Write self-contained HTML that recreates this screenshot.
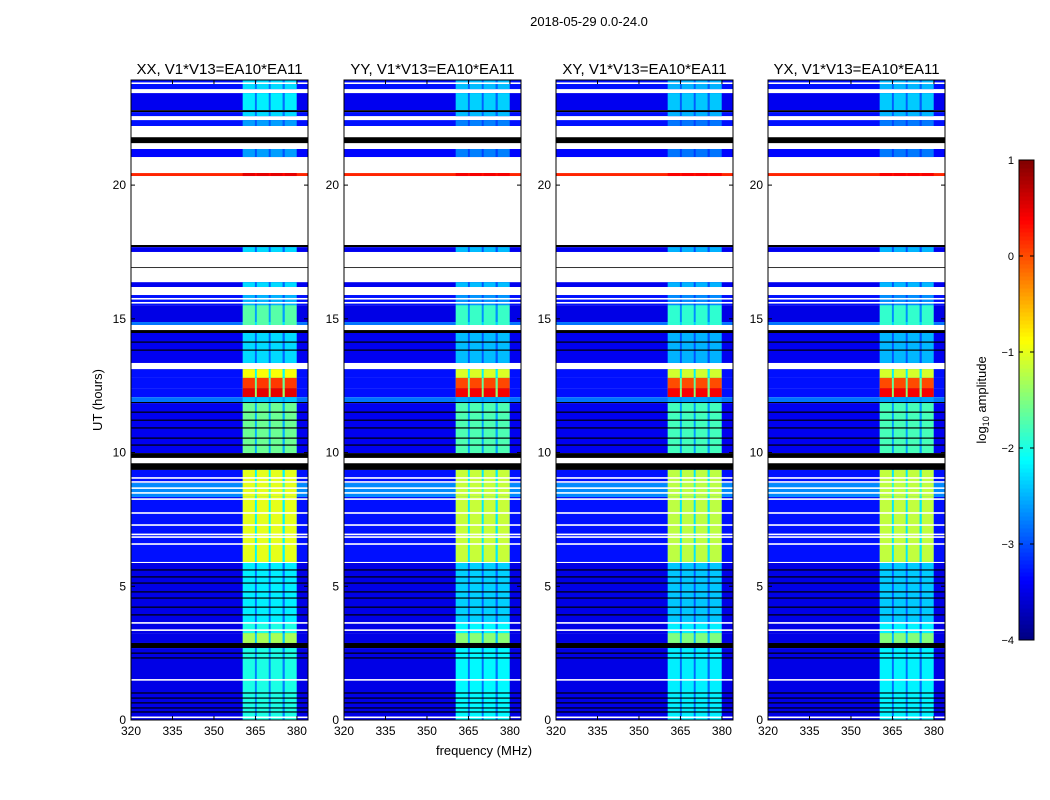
<!DOCTYPE html>
<html><head><meta charset="utf-8"><style>
html,body{margin:0;padding:0;background:#fff;}
svg{display:block;font-family:"Liberation Sans",sans-serif;}
</style></head><body>
<svg id="chart" width="1050" height="800" viewBox="0 0 1050 800" xmlns="http://www.w3.org/2000/svg">
<text x="589" y="26" font-size="13" text-anchor="middle">2018-05-29 0.0-24.0</text>
<text transform="translate(102,400) rotate(-90)" font-size="13" text-anchor="middle">UT (hours)</text>
<text x="484" y="755" font-size="13" text-anchor="middle">frequency (MHz)</text>
<g id="panels"></g>
<g id="cbar"></g>
</svg>
<script>
const panelTitles = ["XX, V1*V13=EA10*EA11","YY, V1*V13=EA10*EA11","XY, V1*V13=EA10*EA11","YX, V1*V13=EA10*EA11"];
const panelBandOffset = [0, -0.15, -0.2, -0.18];
const xTicks = [320,335,350,365,380];
const yTicks = [0,5,10,15,20];
const cbTicks = [1,0,-1,-2,-3,-4];
const bandStart = [360.4, 365.5, 370.5, 375.6];
const bandEnd = [364.8, 369.8, 374.8, 379.9];
const segTop = [23.93,23.59,23.44,22.80,22.73,22.58,22.43,22.21,21.79,21.57,21.35,21.05,20.45,20.34,17.76,17.68,17.50,16.93,16.90,16.37,16.19,15.89,15.51,14.88,14.77,14.58,14.47,13.35,13.12,12.79,12.41,12.07,11.89,11.85,9.98,9.80,9.60,9.35,8.86,8.34,5.91,5.87,3.63,3.25,2.88,2.69];
const segKind = ['d','w','d','k','d','w','d','w','k','w','d','w','d','w','k','d','w','k','w','d','w','d','d','d','w','k','d','w','d','d','d','d','k','d','k','w','k','d','d','d','w','d','d','d','k','d'];
const segBg = [-3.3,0,-3.45,0,-3.3,0,-3.3,0,0,0,-3.35,0,0.2,0,0,-3.45,0,0,0,-3.45,0,-3.3,-3.5,-2.8,0,0,-3.45,0,-3.3,-3.3,-3.3,-2.8,0,-3.45,0,0,0,-3.3,-2.7,-3.3,0,-3.5,-3.5,-3.5,0,-3.5];
const segBand = [-2.3,0,-2.2,0,-2.3,0,-2.6,0,0,0,-2.6,0,0.5,0,0,-2.3,0,0,0,-2.3,0,-2.5,-1.7,-1.7,0,0,-2.3,0,-0.9,0.1,0.5,-2.4,0,-1.6,0,0,0,-1.0,-1.0,-1.0,0,-2.2,-2.0,-1.3,0,-2.0];
const whiteLines = [23.81,9.05,8.9,8.67,8.49,8.26,7.74,7.29,6.94,6.84,6.58,3.63,3.36,1.5,0.1,15.75,15.6];
const blackLines = [14.13,13.83,11.51,11.21,10.92,10.54,10.28,5.61,5.35,5.12,4.79,4.56,4.22,3.93,2.50,2.32,1.01,0.82,0.64,0.45,0.30];

const NS="http://www.w3.org/2000/svg";
const panelLeft=[131,344,556,768], pw=177, pTop=80, pBot=720;
const fMin=320,fMax=384,tMin=0,tMax=23.93;
function mk(t,a,p){const e=document.createElementNS(NS,t);for(const k in a)e.setAttribute(k,a[k]);p.appendChild(e);return e;}
function jet(v){let t=(v+4)/5;t=Math.max(0,Math.min(1,t));
 const r=Math.max(0,Math.min(1,1.5-Math.abs(4*t-3))),g=Math.max(0,Math.min(1,1.5-Math.abs(4*t-2))),b=Math.max(0,Math.min(1,1.5-Math.abs(4*t-1)));
 return `rgb(${Math.round(r*255)},${Math.round(g*255)},${Math.round(b*255)})`;}
const panelsG=document.getElementById('panels');
panelTitles.forEach((title,p)=>{
 const L=panelLeft[p];
 const X=f=>L+(f-fMin)/(fMax-fMin)*pw;
 const Y=t=>pBot-(t-tMin)/(tMax-tMin)*(pBot-pTop);
 const g=mk('g',{},panelsG);
 
 
 for(let i=0;i<segTop.length;i++){
  const t0=segTop[i],t1=(i+1<segTop.length)?segTop[i+1]:0;
  const y0=Y(t0),h=Y(t1)-y0;
  const k=segKind[i];
  if(k==='w')continue;
  const r=mk('rect',{x:L,y:y0,width:pw,height:h,fill:k==='k'?'#000':jet(segBg[i])},g);
  
  
  if(k==='d'){
   const bl=segBand[i]+(segBand[i]<0?panelBandOffset[p]:panelBandOffset[p]*0.5);
   const gap=mk('rect',{x:X(bandStart[0]),y:y0,width:X(bandEnd[3])-X(bandStart[0]),height:h,fill:jet((bl+segBg[i])/2)},g);
   
   
   for(let b=0;b<bandStart.length;b++){
    const br=mk('rect',{x:X(bandStart[b]),y:y0,width:X(bandEnd[b])-X(bandStart[b]),height:h,fill:jet(bl)},g);
    
    
   }
  }
 }
 whiteLines.forEach(t=>{const l=mk('rect',{x:L,y:Y(t)-0.8,width:pw,height:1.6,fill:'#fff'},g);
  
  });
 blackLines.forEach(t=>{const l=mk('rect',{x:L,y:Y(t)-0.6,width:pw,height:1.2,fill:'#000'},g);
  
  });
 const fr=mk('rect',{x:L,y:pTop,width:pw,height:pBot-pTop,fill:'none',stroke:'#000','stroke-width':1},g);
 
 
 const tt=mk('text',{x:L+pw/2,y:74,'font-size':15,'text-anchor':'middle'},g);tt.textContent=title;
 
 
 xTicks.forEach(f=>{const x=X(f);
  mk('line',{x1:x,x2:x,y1:pBot,y2:pBot-4,stroke:'#000'},g);mk('line',{x1:x,x2:x,y1:pTop,y2:pTop+4,stroke:'#000'},g);
  const t=mk('text',{x:x,y:pBot+15,'font-size':12,'text-anchor':'middle'},g);t.textContent=f;
  
  });
 yTicks.forEach(v=>{const y=Y(v);
  mk('line',{x1:L,x2:L+4,y1:y,y2:y,stroke:'#000'},g);mk('line',{x1:L+pw,x2:L+pw-4,y1:y,y2:y,stroke:'#000'},g);
  const t=mk('text',{x:L-5,y:y+4,'font-size':12,'text-anchor':'end'},g);t.textContent=v;
  
  });
});
// colorbar
const cb=document.getElementById('cbar');
const cbx=1019,cbw=15,cbt=160,cbb=640;
const CY=v=>cbb-(v+4)/5*(cbb-cbt);
for(let i=0;i<120;i++){const v=-4+5*i/120;
 mk('rect',{x:cbx,y:CY(v+5/120),width:cbw,height:(cbb-cbt)/120+0.5,fill:jet(v+2.5/120)},cb);}
const cf=mk('rect',{x:cbx,y:cbt,width:cbw,height:cbb-cbt,fill:'none',stroke:'#000'},cb);


cbTicks.forEach(v=>{const y=CY(v);
 mk('line',{x1:cbx,x2:cbx+4,y1:y,y2:y,stroke:'#000'},cb);mk('line',{x1:cbx+cbw,x2:cbx+cbw-4,y1:y,y2:y,stroke:'#000'},cb);
 const t=mk('text',{x:cbx-5,y:y+4,'font-size':11,'text-anchor':'end'},cb);t.textContent=(v<0?'\u2212'+(-v):v);
 
 });
const cl=mk('text',{transform:'translate(986,400) rotate(-90)','font-size':13,'text-anchor':'middle'},cb);


cl.innerHTML='log<tspan font-size="9" dy="3">10</tspan><tspan dy="-3"> amplitude</tspan>';
</script>
</body></html>
